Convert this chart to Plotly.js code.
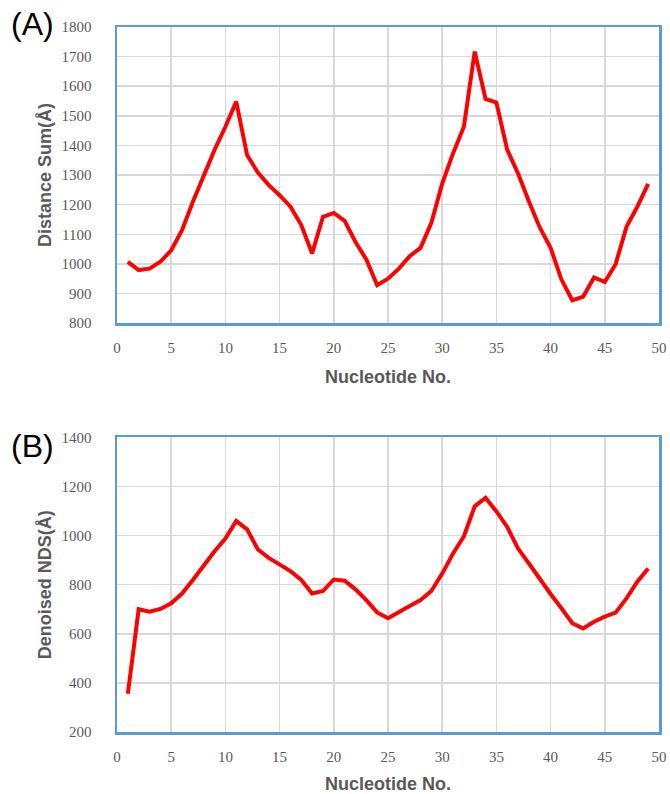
<!DOCTYPE html>
<html>
<head>
<meta charset="utf-8">
<script src="https://cdn.plot.ly/plotly-3.0.1.min.js"></script>
<style>
html,body{margin:0;padding:0;background:#fff;}
#chart{width:670px;height:794px;}
</style>
</head>
<body>
<div id="chart"></div>
<script>
const nucleotide = [1,2,3,4,5,6,7,8,9,10,11,12,13,14,15,16,17,18,19,20,21,22,23,24,25,26,27,28,29,30,31,32,33,34,35,36,37,38,39,40,41,42,43,44,45,46,47,48,49];
const distanceSum = [1007,979,984,1007,1046,1114,1210,1300,1385,1463,1548,1368,1308,1266,1232,1193,1131,1035,1159,1172,1145,1074,1015,928,950,984,1026,1054,1139,1271,1373,1463,1717,1557,1545,1385,1305,1211,1123,1054,947,877,889,954,939,999,1125,1193,1270];
const denoisedNDS = [356,700,690,701,724,764,819,879,936,988,1059,1025,943,909,882,855,819,764,774,821,816,781,737,687,663,686,713,737,774,845,927,997,1119,1154,1098,1035,947,886,821,762,704,643,622,649,670,686,744,812,866];
const xTicks = [0,5,10,15,20,25,30,35,40,45,50];
const yTicksA = [800,900,1000,1100,1200,1300,1400,1500,1600,1700,1800];
const yTicksB = [200,400,600,800,1000,1200,1400];
const panelLabels = ['(A)','(B)'];
const xTitle = 'Nucleotide No.';
const yTitleA = 'Distance Sum(Å)';
const yTitleB = 'Denoised NDS(Å)';

const lineStyle = {color:'#FF0000', width:4};
const traces = [
  {x:nucleotide, y:distanceSum, type:'scatter', mode:'lines', line:lineStyle, xaxis:'x', yaxis:'y', hoverinfo:'x+y'},
  {x:nucleotide, y:denoisedNDS, type:'scatter', mode:'lines', line:lineStyle, xaxis:'x2', yaxis:'y2', hoverinfo:'x+y'}
];

const tickFont = {family:'"Liberation Serif", "Times New Roman", serif', size:15, color:'#595959'};
const titleFont = {family:'"Liberation Sans", Arial, sans-serif', size:18, color:'#595959', weight:'bold'};

function xaxisCfg(anchor){
  return {
    anchor:anchor, domain:[0,1], range:[0,50], tickvals:xTicks, ticktext:xTicks.map(String),
    showgrid:true, gridcolor:'#D9D9D9', gridwidth:1.5, zeroline:false,
    showline:true, mirror:true, linecolor:'#5B9BD5', linewidth:2.5,
    ticks:'outside', ticklen:9, tickcolor:'rgba(0,0,0,0)',
    tickfont:tickFont,
    title:{text:xTitle, font:titleFont, standoff:16}
  };
}
function yaxisCfg(anchor, dom, rng, vals, t){
  return {
    anchor:anchor, domain:dom, range:rng, tickvals:vals, ticktext:vals.map(String),
    showgrid:true, gridcolor:'#D9D9D9', gridwidth:1.5, zeroline:false,
    showline:true, mirror:true, linecolor:'#5B9BD5', linewidth:2.5,
    ticks:'outside', ticklen:20, tickcolor:'rgba(0,0,0,0)',
    tickfont:tickFont,
    title:{text:t, font:titleFont, standoff:5}
  };
}

const layout = {
  width:670, height:794,
  margin:{l:117, r:11, t:27, b:62},
  paper_bgcolor:'#FFFFFF', plot_bgcolor:'#FFFFFF',
  showlegend:false,
  xaxis:xaxisCfg('y'),
  yaxis:yaxisCfg('x',[0.580,1],[800,1800],yTicksA,yTitleA),
  xaxis2:xaxisCfg('y2'),
  yaxis2:yaxisCfg('x2',[0,0.418],[200,1400],yTicksB,yTitleB),
  annotations:[
    {text:panelLabels[0], xref:'paper', yref:'paper', x:-0.199, y:1.004, xanchor:'left', yanchor:'middle', showarrow:false,
     font:{family:'"Liberation Sans", Arial, sans-serif', size:32, color:'#000000'}},
    {text:panelLabels[1], xref:'paper', yref:'paper', x:-0.199, y:0.406, xanchor:'left', yanchor:'middle', showarrow:false,
     font:{family:'"Liberation Sans", Arial, sans-serif', size:32, color:'#000000'}}
  ]
};

Plotly.newPlot('chart', traces, layout, {staticPlot:true, displayModeBar:false});
</script>
</body>
</html>
